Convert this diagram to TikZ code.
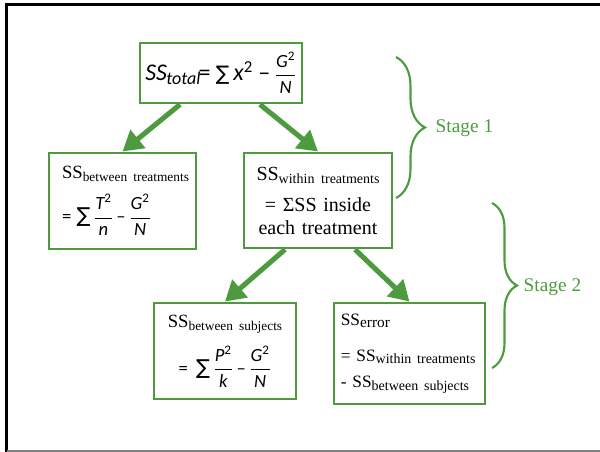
\documentclass[tikz,border=0pt]{standalone}
\usepackage{amsmath}
\usepackage{fontspec}
\setmainfont{Liberation Serif}
\newfontfamily\cf{Carlito}
\newfontfamily\dv{DejaVu Sans}
\definecolor{StageGreen}{HTML}{4E9A3F}
\usetikzlibrary{arrows.meta, positioning, calc, decorations.pathreplacing}

% sans italic / upright pieces of the formulas
\newcommand{\mi}[1]{\text{\cf\itshape #1}}
\newcommand{\mn}[1]{\text{\cf #1}}
\newcommand{\sig}{\text{\dv\fontsize{1.1em}{1.2em}\selectfont ∑}}
% lowered index in smaller type
\newcommand{\lo}[2]{\raisebox{-0.35ex}{\fontsize{#1}{#1}\selectfont #2}}

\begin{document}
\begin{tikzpicture}[x=0.75pt, y=-0.75pt, >=Stealth,
  box/.style={draw=StageGreen, line width=2.2pt, inner sep=0pt},
  flow/.style={-{Triangle[length=15pt,width=17pt]}, line width=3.8pt, StageGreen},
  stagebrace/.style={StageGreen, line width=1.6pt, decorate,
                     decoration={brace, amplitude=#1}},
  stagelabel/.style={StageGreen, anchor=west, font=\fontsize{14.5}{17}\selectfont}]
  \useasboundingbox (0,0) rectangle (600,452);
  \draw[line width=1.6pt] (6.5,452) -- (6.5,4.5) -- (600,4.5);
  \draw[gray, line width=0.8pt] (6.5,451) -- (600,451);

  \node[box, minimum width=121.5pt, minimum height=45pt,
        font=\cf\fontsize{18}{22}\selectfont] (total) at (221,73)
    {{\itshape SS\lo{13.5}{\kern-0.5pt total}}\kern-1.5pt= {\dv\fontsize{15}{18}\selectfont ∑}\,{\itshape x}\textsuperscript{2}
     –\,{\fontsize{14}{16}\selectfont$\dfrac{\mi{G}^{\mn{2}}}{\mi{N}}$}};
  \node[box, minimum width=110.25pt, minimum height=72pt, text width=90.75pt,
        align=left, font=\fontsize{14}{17}\selectfont] (btreat) at (122.5,201)
    {SS\lo{10}{between treatments}\\[8.5pt]
     $\mn{=}\;\sig\,\dfrac{\mi{T}^{\mn{2}}}{\mi{n}}\,\mn{–}\,\dfrac{\mi{G}^{\mn{2}}}{\mi{N}}$};
  \node[box, minimum width=111pt, minimum height=71.25pt, text width=105pt,
        align=center, font=\fontsize{15}{17.25}\selectfont] (wtreat) at (318,200.5)
    {SS\lo{10.5}{within treatments}\\[6pt] = ΣSS inside\\ each treatment};
  \node[box, minimum width=106.5pt, minimum height=72pt, text width=100pt,
        align=center, font=\fontsize{14}{17}\selectfont] (bsubj) at (225,351)
    {SS\lo{10}{between subjects}\\[8.5pt]
     $\mn{=}\;\sig\,\dfrac{\mi{P}^{\mn{2}}}{\mi{k}}\,\mn{–}\,\dfrac{\mi{G}^{\mn{2}}}{\mi{N}}$};
  \node[box, minimum width=113.25pt, minimum height=75.75pt, text width=103pt,
        align=left, font=\fontsize{13}{20}\selectfont] (error) at (409.5,353.5)
    {SS\lo{11.5}{error}\\[7pt] =~SS\lo{10.5}{within treatments}\\
     -~SS\lo{10.5}{between subjects}};

  \draw[flow] ($(total.south)+(-41,0)$) -- (btreat.north);
  \draw[flow] ($(total.south)+(39,0)$) -- (wtreat.north);
  \draw[flow] ($(wtreat.south)+(-33,0)$) -- (bsubj.north);
  \draw[flow] ($(wtreat.south)+(37,0)$) -- (error.north);

  % stages
  \coordinate (s1top) at (396,57);
  \coordinate (s1bot) at (396,198);
  \coordinate (s2top) at (492,203);
  \coordinate (s2bot) at (492,368);
  \draw[stagebrace=21.75pt] (s1top) -- (s1bot);
  \draw[stagebrace=18.75pt] (s2top) -- (s2bot);
  \node[stagelabel] (stage1) at (431,128) {Stage 1};
  \node[stagelabel] (stage2) at (519,287) {Stage 2};
\end{tikzpicture}
\end{document}
